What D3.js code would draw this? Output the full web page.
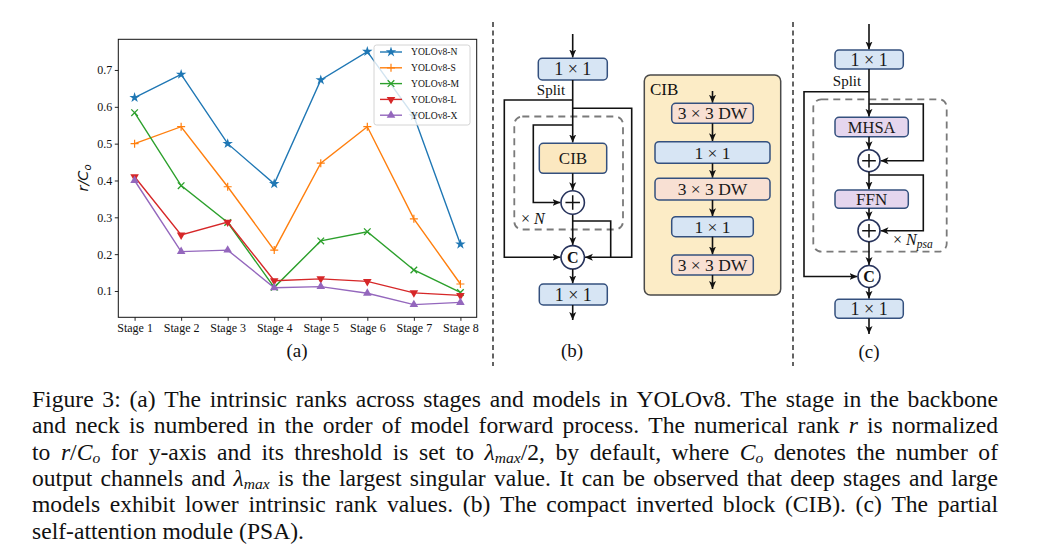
<!DOCTYPE html>
<html><head><meta charset="utf-8">
<script src="https://cdn.jsdelivr.net/npm/d3@7"></script>
<style>body{margin:0;background:#fff;} svg{display:block;}</style>
</head><body><svg id="c" width="1047" height="551"></svg>
<script>
// ---------------- DATA ----------------
const stages = ["Stage 1","Stage 2","Stage 3","Stage 4","Stage 5","Stage 6","Stage 7","Stage 8"];
const yoloN = [0.625,0.688,0.500,0.391,0.673,0.750,0.575,0.227];
const yoloS = [0.500,0.546,0.383,0.211,0.447,0.546,0.296,0.119];
const yoloM = [0.584,0.386,0.286,0.110,0.236,0.261,0.157,0.096];
const yoloL = [0.410,0.252,0.287,0.128,0.133,0.126,0.095,0.088];
const yoloX = [0.400,0.207,0.211,0.109,0.112,0.094,0.063,0.069];
const seriesNames = ["YOLOv8-N","YOLOv8-S","YOLOv8-M","YOLOv8-L","YOLOv8-X"];
const seriesColors = ["#1f77b4","#ff7f0e","#2ca02c","#d62728","#9467bd"];
const seriesMarkers = ["star","plus","x","tridown","triup"];
const yTicks = [0.1,0.2,0.3,0.4,0.5,0.6,0.7];
const captionLines = [
 "Figure 3: (a) The intrinsic ranks across stages and models in YOLOv8. The stage in the backbone",
 "and neck is numbered in the order of model forward process. The numerical rank $r$ is normalized",
 "to $r$/$C$_{o} for y-axis and its threshold is set to $λ$_{max}/2, by default, where $C$_{o} denotes the number of",
 "output channels and $λ$_{max} is the largest singular value. It can be observed that deep stages and large",
 "models exhibit lower intrinsic rank values. (b) The compact inverted block (CIB). (c) The partial",
 "self-attention module (PSA)."
];

// ---------------- SETUP ----------------
const svg = d3.select("#c");
const serif = "'Liberation Serif','Times New Roman',serif";
const defs = svg.append("defs");
defs.append("marker").attr("id","ah").attr("markerUnits","userSpaceOnUse")
  .attr("markerWidth",9).attr("markerHeight",8).attr("refX",8).attr("refY",4).attr("orient","auto")
  .append("path").attr("d","M0,0.5 L8,4 L0,7.5 L2,4 z").attr("fill","#111");

// ---------------- CHART (a) ----------------
const fr = {l:118.3, r:476.7, t:39.3, b:317.3};
const x = d3.scalePoint().domain(stages).range([fr.l, fr.r]).padding(0.35);
const y = d3.scaleLinear().domain([0.0286, 0.7833]).range([fr.b, fr.t]);
const ch = svg.append("g");

const ya = ch.append("g").attr("transform",`translate(${fr.l},0)`)
  .call(d3.axisLeft(y).tickValues(yTicks).tickFormat(d3.format(".1f")).tickSize(3.5).tickPadding(2.5));
const xa = ch.append("g").attr("transform",`translate(0,${fr.b})`)
  .call(d3.axisBottom(x).tickSize(3.5).tickPadding(3));
[ya,xa].forEach(a=>{
  a.select(".domain").remove();
  a.selectAll("text").attr("font-family",serif).attr("font-size",12).attr("fill","#111");
  a.selectAll("line").attr("stroke","#111").attr("stroke-width",0.9);
});
ch.append("rect").attr("x",fr.l).attr("y",fr.t).attr("width",fr.r-fr.l).attr("height",fr.b-fr.t)
  .attr("fill","none").attr("stroke","#111").attr("stroke-width",1);

const allSeries = [yoloN,yoloS,yoloM,yoloL,yoloX];
function marker(g, type, color){
  if(type==="star") g.append("path").attr("d",d3.symbol(d3.symbolStar,34)()).attr("fill",color);
  else if(type==="plus") g.append("path").attr("d","M-4,0H4M0,-4V4").attr("stroke",color).attr("stroke-width",1.2);
  else if(type==="x") g.append("path").attr("d","M-3.3,-3.3L3.3,3.3M-3.3,3.3L3.3,-3.3").attr("stroke",color).attr("stroke-width",1.3);
  else if(type==="triup") g.append("path").attr("d",d3.symbol(d3.symbolTriangle,32)()).attr("fill",color);
  else if(type==="tridown") g.append("path").attr("d",d3.symbol(d3.symbolTriangle,32)()).attr("transform","rotate(180)").attr("fill",color);
}
const line = d3.line().x((d,i)=>x(stages[i])).y(d=>y(d));
allSeries.forEach((s,k)=>{
  const g = ch.append("g");
  g.append("path").attr("d",line(s)).attr("fill","none").attr("stroke",seriesColors[k]).attr("stroke-width",1.4);
  s.forEach((v,i)=>{
    const m = g.append("g").attr("transform",`translate(${x(stages[i])},${y(v)})`);
    marker(m, seriesMarkers[k], seriesColors[k]);
  });
});
// legend
const lg = ch.append("g");
lg.append("rect").attr("x",374).attr("y",45).attr("width",96).attr("height",80).attr("rx",2.5)
  .attr("fill","#fff").attr("fill-opacity",0.8).attr("stroke","#cfcfcf").attr("stroke-width",0.9);
seriesNames.forEach((n,k)=>{
  const yy = 52 + k*15.8;
  lg.append("line").attr("x1",380).attr("x2",402).attr("y1",yy).attr("y2",yy)
    .attr("stroke",seriesColors[k]).attr("stroke-width",1.4);
  marker(lg.append("g").attr("transform",`translate(391,${yy})`), seriesMarkers[k], seriesColors[k]);
  lg.append("text").attr("x",411).attr("y",yy).attr("dy","0.35em").attr("font-family",serif)
    .attr("font-size",9.6).attr("fill","#111").text(n);
});
// y label r/C_o
const yl = ch.append("text").attr("transform","translate(88,178) rotate(-90)")
  .attr("text-anchor","middle").attr("font-family","'DejaVu Sans',sans-serif").attr("font-size",14.5)
  .attr("font-style","italic").attr("fill","#111");
yl.append("tspan").text("r/C");
yl.append("tspan").attr("font-size",10).attr("dy",3).text("o");
ch.append("text").attr("x",297).attr("y",357).attr("text-anchor","middle")
  .attr("font-family",serif).attr("font-size",19).attr("fill","#111").text("(a)");

// ---------------- separators ----------------
[493,793].forEach(sx=>{
  svg.append("line").attr("x1",sx).attr("x2",sx).attr("y1",22).attr("y2",366)
    .attr("stroke","#222").attr("stroke-width",1.4).attr("stroke-dasharray","5,3.5");
});

// ---------------- DIAGRAM helpers ----------------
const NAVY = "#34507e", BLUE = "#d7e5f4", YEL = "#fbe8c0", PINK = "#f8e0d3", LAV = "#e5d6ee";
const dg = svg.append("g");
function box(x0,y0,x1,y1,fill,label,fs){
  dg.append("rect").attr("x",x0).attr("y",y0).attr("width",x1-x0).attr("height",y1-y0).attr("rx",4)
    .attr("fill",fill).attr("stroke",NAVY).attr("stroke-width",1.5);
  if(label) dg.append("text").attr("x",(x0+x1)/2).attr("y",(y0+y1)/2).attr("dy","0.35em")
    .attr("text-anchor","middle").attr("font-family",serif).attr("font-size",fs).attr("fill","#1a1a1a").text(label);
}
function wire(d, arrow){
  const p = dg.append("path").attr("d",d).attr("fill","none").attr("stroke","#111").attr("stroke-width",1.6);
  if(arrow) p.attr("marker-end","url(#ah)");
}
function plusC(cx,cy,r){
  dg.append("circle").attr("cx",cx).attr("cy",cy).attr("r",r).attr("fill","#fff").attr("stroke","#27335c").attr("stroke-width",1.6);
  dg.append("path").attr("d",`M${cx-r*0.62},${cy}H${cx+r*0.62}M${cx},${cy-r*0.62}V${cy+r*0.62}`).attr("stroke","#111").attr("stroke-width",1.5);
}
function catC(cx,cy,r){
  dg.append("circle").attr("cx",cx).attr("cy",cy).attr("r",r).attr("fill","#fff").attr("stroke","#27335c").attr("stroke-width",1.6);
  dg.append("text").attr("x",cx).attr("y",cy).attr("dy","0.35em").attr("text-anchor","middle")
    .attr("font-family",serif).attr("font-weight","bold").attr("font-size",16).attr("fill","#111").text("C");
}
function dashRect(x0,y0,x1,y1){
  dg.append("rect").attr("x",x0).attr("y",y0).attr("width",x1-x0).attr("height",y1-y0).attr("rx",8)
    .attr("fill","none").attr("stroke","#7a7a7a").attr("stroke-width",1.8).attr("stroke-dasharray","7,5");
}
function txt(x0,y0,s,fs,anchor){
  return dg.append("text").attr("x",x0).attr("y",y0).attr("text-anchor",anchor||"start")
    .attr("font-family",serif).attr("font-size",fs).attr("fill","#111").text(s);
}

// ---------------- DIAGRAM (b) ----------------
{
  const cx = 572.7, r = 11.7;
  dashRect(514.3,116.5,623,229.5);
  wire(`M${cx},34 V57.5`, true);
  box(538.3,58.3,607.3,80,BLUE,"1 × 1",18);
  txt(551,95,"Split",15,"middle");
  wire(`M${cx},80 V142.5`, true);
  wire(`M${cx},100 H504.3 V257.3 H${cx-r-0.5}`, true);
  wire(`M${cx},108.3 H631.7 V257.3 H${cx+r+0.5}`, true);
  wire(`M${cx},125 H533.3 V202.5 H${cx-r-0.5}`, true);
  box(539.3,143.3,606.7,173.3,YEL,"CIB",17);
  wire(`M${cx},173.3 V${202.5-r-0.5}`, true);
  wire(`M${cx},${202.5+r} V${257.3-r-0.5}`, true);
  wire(`M${cx},221 H610.7 V257.3`, false);
  plusC(cx,202.5,r);
  catC(cx,257.3,r);
  const tn = txt(521,223.5,"× ",16);
  tn.append("tspan").attr("font-style","italic").text("N");
  wire(`M${cx},${257.3+r} V283.5`, true);
  box(539.3,284,607.3,305,BLUE,"1 × 1",18);
  wire(`M${cx},305 V320`, true);
  txt(572,357,"(b)",19,"middle");

  // CIB container
  dg.append("rect").attr("x",644.3).attr("y",75).attr("width",136.4).attr("height",220).attr("rx",6)
    .attr("fill","#fcecc6").attr("stroke","#4a4a4a").attr("stroke-width",1.5);
  txt(650,95,"CIB",17);
  const ax = 712.5;
  const blocks = [[671.7,103.3,753.3,123.3,PINK,"3 × 3 DW"],[655,141.7,770,163.3,BLUE,"1 × 1"],
    [655,178.3,770,200,PINK,"3 × 3 DW"],[671.7,216.7,753.3,236.7,BLUE,"1 × 1"],[671.7,255,753.3,275,PINK,"3 × 3 DW"]];
  let prev = 91;
  blocks.forEach(b=>{
    wire(`M${ax},${prev} V${b[1]-0.5}`, true);
    box(b[0],b[1],b[2],b[3],b[4],b[5],17.5);
    prev = b[3];
  });
  wire(`M${ax},275 V289`, true);
}

// ---------------- DIAGRAM (c) ----------------
{
  const cx = 869, r = 11;
  dashRect(813.3,99.3,946.7,251.7);
  wire(`M${cx},24 V49.5`, true);
  box(835,50,903.3,69,BLUE,"1 × 1",18);
  txt(847,86,"Split",15,"middle");
  wire(`M${cx},69 V116.8`, true);
  wire(`M${cx},91.7 H804 V276.5 H${cx-r-0.5}`, true);
  wire(`M${cx},104 H923.3 V160.7 H${cx+r+0.5}`, true);
  box(835,117.3,908.3,136.7,LAV,"MHSA",16.5);
  wire(`M${cx},136.7 V${160.7-r-0.5}`, true);
  plusC(cx,160.7,r);
  wire(`M${cx},${160.7+r} V189.5`, true);
  wire(`M${cx},175 H923.3 V230.7 H${cx+r+0.5}`, true);
  box(835,190,908.3,208.3,LAV,"FFN",17);
  wire(`M${cx},208.3 V${230.7-r-0.5}`, true);
  plusC(cx,230.7,r);
  wire(`M${cx},${230.7+r} V${276.5-r-0.5}`, true);
  catC(cx,276.5,r);
  const tp = txt(893,245,"× ",16);
  tp.append("tspan").attr("font-style","italic").text("N");
  tp.append("tspan").attr("font-style","italic").attr("font-size",11.5).attr("dy",3).text("psa");
  wire(`M${cx},${276.5+r} V298.8`, true);
  box(835,299.3,903.3,318.3,BLUE,"1 × 1",18);
  wire(`M${cx},318.3 V334`, true);
  txt(869,358,"(c)",19,"middle");
}

// ---------------- CAPTION ----------------
const capG = svg.append("g");
const CF = 23.6, CL = 32, CR = 998, CY0 = 407, CDY = 26.3;
function renderWord(g, word, xx, yy){
  const t = g.append("text").attr("x",xx).attr("y",yy).attr("font-family",serif).attr("font-size",CF).attr("fill","#111");
  let i=0, it=false, buf="", shift=0;
  const flush=(style, sub)=>{
    if(!buf) return;
    const ts = t.append("tspan").text(buf);
    if(style) ts.attr("font-style","italic");
    if(sub){ ts.attr("font-size",CF*0.66).attr("dy",3.5); shift=3.5; }
    else if(shift){ ts.attr("dy",-shift); shift=0; }
    buf="";
  };
  while(i<word.length){
    const c = word[i];
    if(c==="$"){ flush(it,false); it=!it; i++; continue; }
    if(c==="_" && word[i+1]==="{"){
      flush(it,false);
      const j = word.indexOf("}",i);
      buf = word.slice(i+2,j); flush(true,true); i=j+1; continue;
    }
    buf+=c; i++;
  }
  flush(it,false);
  return t;
}
captionLines.forEach((ln,li)=>{
  const yy = CY0 + li*CDY;
  const words = ln.split(" ");
  const ts = words.map(w=>renderWord(capG,w,0,yy));
  const widths = ts.map(t=>t.node().getComputedTextLength());
  const W = d3.sum(widths);
  const last = li===captionLines.length-1;
  const gap = last ? CF*0.25 : (CR-CL-W)/(words.length-1);
  let cx = CL;
  ts.forEach((t,i)=>{ t.attr("x",cx); cx += widths[i]+gap; });
});
</script></body></html>
